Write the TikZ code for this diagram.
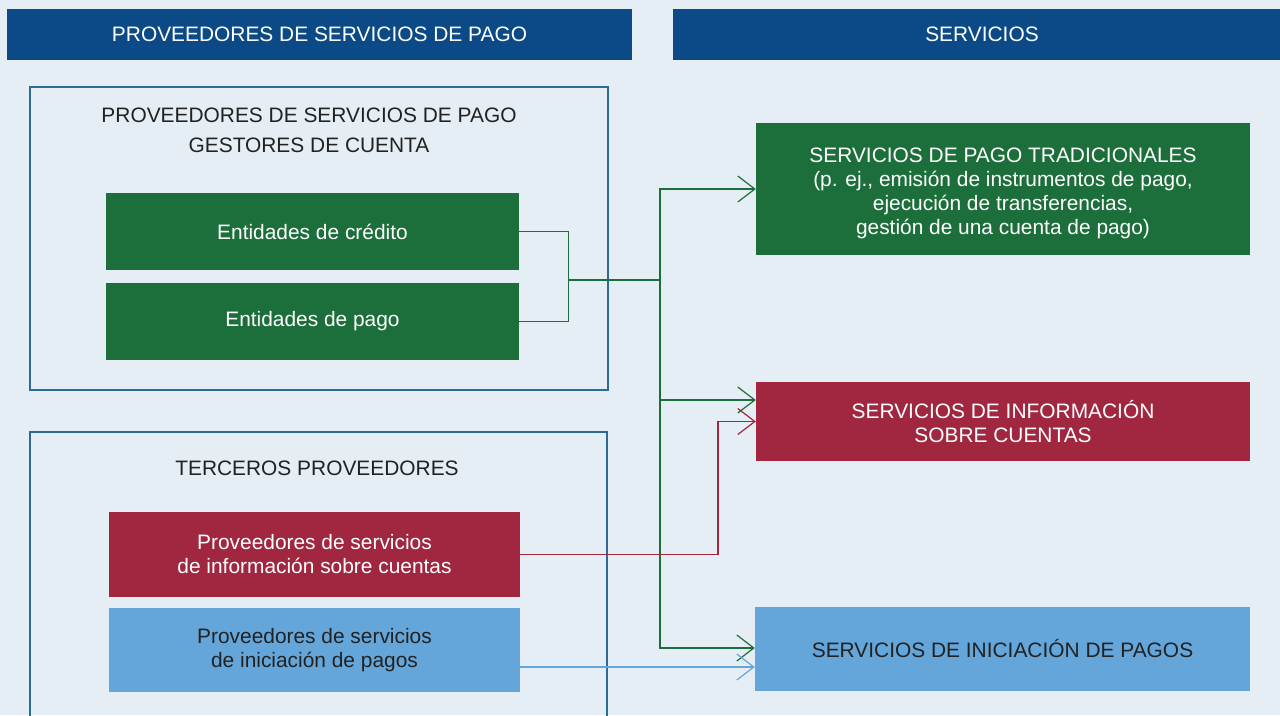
\documentclass[tikz,border=0pt]{standalone}
\usepackage{fontspec}
\setmainfont{Liberation Sans}
\usetikzlibrary{arrows.meta,calc}

\definecolor{bgblue}{HTML}{E5EEF4}
\definecolor{hdrblue}{HTML}{0B4A86}
\definecolor{psgreen}{HTML}{1C6F3A}
\definecolor{psred}{HTML}{A0273F}
\definecolor{pslight}{HTML}{64A6DA}
\definecolor{framecol}{HTML}{2E6B94}
\definecolor{darktext}{HTML}{222222}

\tikzset{
  hdr/.style={fill=hdrblue,text=white,minimum height=51pt,inner sep=0pt},
  frame/.style={draw=framecol,line width=1.1pt,inner sep=0pt},
  title/.style={text=darktext,align=center},
  box/.style={minimum width=413pt,inner sep=0pt,align=center},
  gline/.style={draw=psgreen,line width=1.2pt},
  tip/.style={-{Straight Barb[length=17pt,width=26pt]}}
}

\begin{document}
\begin{tikzpicture}[x=1pt,y=-1pt,font=\fontsize{20.9}{24}\selectfont]

      \path[use as bounding box,fill=bgblue] (0,0) rectangle (1280,715);
      \clip (0,0) rectangle (1280,715);

      % headers
      \node[hdr,minimum width=625pt] (hdrL) at (319.5,34.5) {PROVEEDORES DE SERVICIOS DE PAGO};
      \node[hdr,minimum width=618pt] (hdrR) at (982,34.5) {SERVICIOS};

      % frames
      \node[frame,minimum width=578pt,minimum height=303pt] (gest) at (319,238.5) {};
      \node[frame,minimum width=577pt,minimum height=320pt] (terc) at (318.5,592) {};
      \node[title] (gestT) at (309,130)
        {PROVEEDORES DE SERVICIOS DE PAGO\\[6pt]GESTORES DE CUENTA};
      \node[title] (tercT) at (317,468) {TERCEROS PROVEEDORES};

      \begin{scope}[every node/.style={box}]
        \node[fill=psgreen,text=white,minimum height=77pt] (cred) at (312.5,231.5) {Entidades de crédito};
        \node[fill=psgreen,text=white,minimum height=77pt] (pago) at (312.5,321.5) {Entidades de pago};
        \node[fill=psred,text=white,minimum width=411pt,minimum height=85pt] (pinfo) at (314.5,554.5)
          {Proveedores de servicios\\de información sobre cuentas};
        \node[fill=pslight,text=darktext,minimum width=411pt,minimum height=84pt] (pini) at (314.5,650)
          {Proveedores de servicios\\de iniciación de pagos};
      \end{scope}

      \begin{scope}[every node/.style={box,minimum width=494pt}]
        \node[fill=psgreen,minimum height=132pt,
          label={[text=white,align=center,yshift=-4pt]center:{SERVICIOS DE PAGO TRADICIONALES\\(p. ej., emisión de instrumentos de pago,\\ejecución de transferencias,\\gestión de una cuenta de pago)}}]
          (svctrad) at (1003,189) {};
        \node[fill=psred,text=white,minimum height=79pt] (svcinfo) at (1003,421.5)
          {SERVICIOS DE INFORMACIÓN\\SOBRE CUENTAS};
        \node[fill=pslight,text=darktext,minimum width=495pt,minimum height=84pt] (svcini) at (1002.5,649)
          {SERVICIOS DE INICIACIÓN DE PAGOS};
      \end{scope}

      % connectors
      \coordinate (j1) at (568,280);
      \coordinate (j2) at (660,280);
      \draw[gline] (cred.east) -- ++(49,0) |- (pago.east);
      \draw[gline] (j1) -- (j2);
      \draw[gline,tip] (j2) |- (svctrad.west);
      \draw[gline,tip] (j2) |- ($(svcinfo.west)+(0,-21.5)$);
      \draw[gline,tip] (j2) |- ($(svcini.west)+(0,-1)$);
      \draw[psred,line width=1.2pt,tip] (pinfo.east) -- (718,554.5) |- (svcinfo.west);
      \draw[pslight,line width=1.2pt,tip] ($(pini.east)+(0,17)$) coordinate (b0) -- (b0 -| svcini.west);

    \end{tikzpicture}
\end{document}
